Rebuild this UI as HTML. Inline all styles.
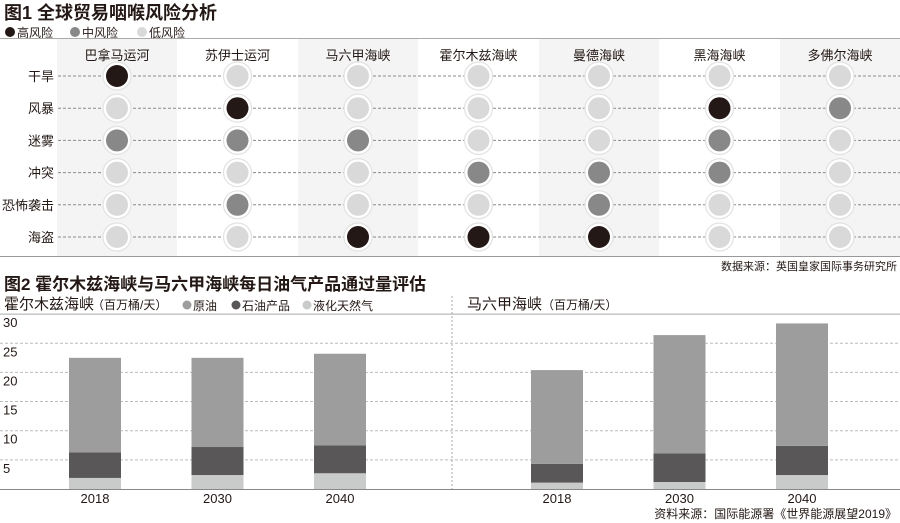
<!DOCTYPE html>
<html><head><meta charset="utf-8"><style>
body{margin:0;background:#fff;font-family:"Liberation Sans","Noto Sans CJK SC",sans-serif;}
svg{display:block}
</style></head><body>
<svg id="c" width="900" height="523" font-family="Liberation Sans, Noto Sans CJK SC, sans-serif">
</svg>
<script>
const NS='http://www.w3.org/2000/svg';
const svg=document.getElementById('c');
function mk(tag,attrs,parent,text){const e=document.createElementNS(NS,tag);for(const k in attrs)e.setAttribute(k,attrs[k]);if(text!==undefined)e.textContent=text;(parent||svg).appendChild(e);return e;}

// ---- Figure 1 data ----
const straits=['巴拿马运河','苏伊士运河','马六甲海峡','霍尔木兹海峡','曼德海峡','黑海海峡','多佛尔海峡'];
const risks=['干旱','风暴','迷雾','冲突','恐怖袭击','海盗'];
// 2=high,1=mid,0=low ; per strait, rows in risks order
const panama=[2,0,1,0,0,0];
const suez=[0,2,1,0,1,0];
const malacca=[0,0,1,0,0,2];
const hormuz=[0,0,0,1,0,2];
const mandeb=[0,0,0,1,1,2];
const blacksea=[0,2,1,1,0,0];
const dover=[0,1,0,0,0,0];
const riskMatrix=[panama,suez,malacca,hormuz,mandeb,blacksea,dover];
const levelColors=['#d9d9d9','#888888','#231815'];

// ---- Figure 2 data ----
const years=['2018','2030','2040'];
const hormuzLng=[1.9,2.4,2.7];
const hormuzProducts=[4.4,4.8,4.8];
const hormuzCrude=[16.2,15.3,15.7];
const malaccaLng=[1.1,1.2,2.4];
const malaccaProducts=[3.2,4.9,5.0];
const malaccaCrude=[16.1,20.3,21.0];
const yTicks=[5,10,15,20,25,30];

// ---- Figure 1 drawing ----
let t=mk('text',{x:4,y:19,'font-size':18,fill:'#231815','font-weight':'bold'},svg,'图1 全球贸易咽喉风险分析');

const lg1=[['高风险',2,10],['中风险',1,75],['低风险',0,142]];
lg1.forEach(l=>{const g=mk('g',{});
 mk('circle',{cx:l[2],cy:32,r:5,fill:levelColors[l[1]]},g);mk('text',{x:l[2]+7,y:37,'font-size':12,fill:'#231815'},g,l[0]);});
const colX=i=>117+i*120.5;
const rowY=j=>76+j*32.2;
[0,2,4,6].forEach(i=>{const r=mk('rect',{x:colX(i)-60,y:38,width:120,height:218,fill:'#f4f4f4'});});
mk('line',{x1:0,y1:38.5,x2:900,y2:38.5,stroke:'#aaa','stroke-width':1});
mk('line',{x1:0,y1:256.5,x2:900,y2:256.5,stroke:'#999','stroke-width':1});
risks.forEach((r,j)=>{const y=rowY(j);
 const ln=mk('line',{x1:58,y1:y,x2:900,y2:y,stroke:'#8a8a8a','stroke-dasharray':'3,2','stroke-width':1});
 const tx=mk('text',{x:54,y:y+5,'font-size':13,fill:'#231815','text-anchor':'end'},svg,r);});
straits.forEach((s,i)=>{const tx=mk('text',{x:colX(i),y:60,'font-size':13,fill:'#231815','text-anchor':'middle'},svg,s);
 
 riskMatrix[i].forEach((v,j)=>{const g=mk('g',{});
  mk('circle',{cx:colX(i),cy:rowY(j),r:14,fill:'#fff',stroke:'#e2e2e2','stroke-width':1.2},g);
  mk('circle',{cx:colX(i),cy:rowY(j),r:11,fill:levelColors[v]},g);});});
t=mk('text',{x:897,y:270,'font-size':11,fill:'#231815','text-anchor':'end'},svg,'数据来源：英国皇家国际事务研究所');


// ---- Figure 2 drawing ----
t=mk('text',{x:4,y:290,'font-size':17,fill:'#231815','font-weight':'bold'},svg,'图2 霍尔木兹海峡与马六甲海峡每日油气产品通过量评估');

t=mk('text',{x:4,y:309,'font-size':15,fill:'#231815'},svg,'霍尔木兹海峡');
mk('text',{x:92,y:309,'font-size':12,fill:'#231815'},svg,'（百万桶/天）');
t=mk('text',{x:467,y:309,'font-size':15,fill:'#231815'},svg,'马六甲海峡');
mk('text',{x:542,y:309,'font-size':12,fill:'#231815'},svg,'（百万桶/天）');
const seriesColors=['#9d9d9d','#595757','#c9caca'];
[['原油',0,187],['石油产品',1,236],['液化天然气',2,307]].forEach(l=>{const g=mk('g',{});
 mk('circle',{cx:l[2],cy:305,r:4.5,fill:seriesColors[l[1]]},g);mk('text',{x:l[2]+6,y:310,'font-size':12,fill:'#231815'},g,l[0]);});
const y0=489,pxPer=5.83;
const yS=v=>y0-v*pxPer;
yTicks.forEach(v=>{const y=yS(v);
 const ln=mk('line',{x1:0,y1:y,x2:900,y2:y,stroke:v===30?'#aaa':'#bbb','stroke-dasharray':v===30?'':'3,2','stroke-width':1});
 const tx=mk('text',{x:3,y:y+13,'font-size':13,fill:'#231815'},svg,String(v));});
mk('line',{x1:452,y1:296,x2:452,y2:489,stroke:'#aaa','stroke-dasharray':'2,2'});
mk('line',{x1:0,y1:y0+0.5,x2:900,y2:y0+0.5,stroke:'#888','stroke-width':1});
function drawGroup(name,x0,lng,prod,crude){
 years.forEach((yr,i)=>{const cx=x0+i*122.5;const w=52;
  const segs=[lng[i],prod[i],crude[i]];const cols=[seriesColors[2],seriesColors[1],seriesColors[0]];
  let base=0;
  segs.forEach((v,k)=>{const r=mk('rect',{x:cx-w/2,y:yS(base+v),width:w,height:v*pxPer,fill:cols[k]});
   base+=v;});
  const tx=mk('text',{x:cx,y:503,'font-size':13,fill:'#231815','text-anchor':'middle'},svg,yr);
  });
}
drawGroup('hormuz',95,hormuzLng,hormuzProducts,hormuzCrude);
drawGroup('malacca',557,malaccaLng,malaccaProducts,malaccaCrude);
t=mk('text',{x:897,y:518,'font-size':12,fill:'#231815','text-anchor':'end'},svg,'资料来源：国际能源署《世界能源展望2019》');

</script>
</body></html>
